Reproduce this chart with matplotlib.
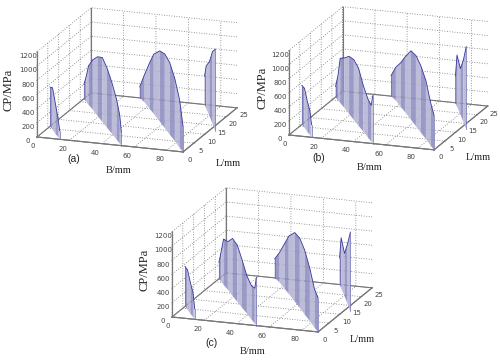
import matplotlib
matplotlib.use('Agg')
import matplotlib.pyplot as plt
from mpl_toolkits.mplot3d.art3d import Poly3DCollection
from mpl_toolkits.mplot3d import proj3d

# positions of the contact lines on the B-L floor
r1_b = [0, 3.6, 8.1, 11.3, 14]
r1_l = [6, 4.5, 2.5, 1.2, 0]
r2_b = [0, 3.5, 6.6, 12.3, 18.9, 25.6, 32.1, 38.7, 45.3, 49.7, 52]
r2_l = [21.7, 20.2, 18.9, 16.6, 13.8, 11, 8.3, 5.6, 2.8, 1, 0]
r3_b = [30, 35.7, 42.8, 48.4, 56.9, 64, 71, 78.2, 85.2, 90]
r3_l = [25, 23, 20, 17.7, 14.1, 11.1, 8.1, 5.1, 2, 0]
r4_b = [70, 73.5, 80.5, 87.3, 94]
r4_l = [25, 23.1, 19.4, 15.7, 12]

# contact pressure along each line, one set per panel
a_r1 = [555, 590, 414, 270, 120]
a_r2 = [200, 367, 550, 705, 832, 907, 841, 719, 569, 395, 190]
a_r3 = [155, 395, 650, 841, 996, 1043, 1015, 874, 680, 366]
a_r4 = [400, 600, 770, 1020, 1160]

b_r1 = [555, 560, 430, 350, 180]
b_r2 = [150, 352, 634, 710, 818, 855, 818, 650, 545, 512, 680]
b_r3 = [291, 475, 630, 780, 978, 1001, 950, 827, 611, 494]
b_r4 = [376, 733, 649, 874, 1175]

c_r1 = [564, 560, 430, 350, 150]
c_r2 = [226, 442, 644, 677, 808, 799, 677, 531, 475, 498, 680]
c_r3 = [268, 423, 639, 813, 973, 982, 907, 738, 540, 484]
c_r4 = [376, 714, 602, 846, 1118]

b_ticks = [0, 20, 40, 60, 80]
l_ticks = [0, 5, 10, 15, 20, 25]
cp_ticks = [0, 200, 400, 600, 800, 1000, 1200]

W, H = 500, 361
fig = plt.figure(figsize=(W / 100, H / 100), dpi=100)
fig.patch.set_facecolor('white')


def draw_ridge(ax, bs, ls, ps):
    quads = []
    cols = []
    for i in range(len(bs) - 1):
        quads.append([(bs[i], ls[i], 0), (bs[i + 1], ls[i + 1], 0),
                      (bs[i + 1], ls[i + 1], ps[i + 1]), (bs[i], ls[i], ps[i])])
        cols.append('#8f8fc0' if i % 2 == 0 else '#b6b6d6')
    poly = Poly3DCollection(quads, facecolors=cols, edgecolors='none', alpha=0.9, zorder=3)
    ax.add_collection3d(poly)
    ax.plot(bs, ls, ps, color='#35359c', lw=0.6, zorder=4)
    ax.plot([bs[0], bs[0]], [ls[0], ls[0]], [0, ps[0]], color='#6a6ab0', lw=0.5, zorder=4)
    ax.plot([bs[-1], bs[-1]], [ls[-1], ls[-1]], [0, ps[-1]], color='#6a6ab0', lw=0.5, zorder=4)


def project(ax, x, y, z):
    px, py, _ = proj3d.proj_transform(x, y, z, ax.get_proj())
    return ax.transData.transform((px, py))


def panel(origin, right, r1, r2, r3, r4):
    ax = fig.add_axes([0.1, 0.1, 0.5, 0.6], projection='3d', computed_zorder=False)
    ax.set_proj_type('ortho')
    ax.view_init(elev=16.8, azim=-70.5)
    ax.set_box_aspect((155, 162, 89), zoom=1.0)
    ax.set_xlim(0, 90)
    ax.set_ylim(0, 25)
    ax.set_zlim(0, 1200)
    ax.set_xticks(b_ticks)
    ax.set_yticks(l_ticks)
    ax.set_zticks(cp_ticks)
    ax.patch.set_alpha(0)
    for axis in (ax.xaxis, ax.yaxis, ax.zaxis):
        axis.set_pane_color((1, 1, 1, 0))
        axis.pane.set_edgecolor('none')
        axis.line.set_color('#777777')
        axis.line.set_linewidth(0.8)
        axis._axinfo['grid'].update(color='#777777', linestyle=(0, (1, 2)), linewidth=0.6)
        axis._axinfo['tick'].update(inward_factor=0.05, outward_factor=0.05)
        axis._axinfo['tick']['linewidth'] = {True: 0.4, False: 0.3}
    ax.tick_params(labelsize=5, pad=-4, colors='#444444', length=1, width=0.4)
    plt.setp(ax.get_xticklabels(), ha='right')
    ax.zaxis.set_ticks_position('lower')
    ax.zaxis.set_label_position('lower')

    # solid edges of the two walls
    ax.plot([0, 0], [25, 25], [0, 1200], color='#777777', lw=0.8, zorder=2)
    ax.plot([0, 90], [25, 25], [0, 0], color='#777777', lw=0.8, zorder=2)
    ax.plot([0, 0], [0, 25], [0, 0], color='#777777', lw=0.8, zorder=2)
    ax.plot([0, 0], [0, 0], [0, 1200], color='#777777', lw=0.8, zorder=2)
    ax.plot([0, 90], [0, 0], [0, 0], color='#777777', lw=0.8, zorder=2)
    ax.plot([90, 90], [0, 25], [0, 0], color='#777777', lw=0.8, zorder=2)

    draw_ridge(ax, r1_b, r1_l, r1)
    draw_ridge(ax, r2_b, r2_l, r2)
    draw_ridge(ax, r3_b, r3_l, r3)
    draw_ridge(ax, r4_b, r4_l, r4)

    # fit the axes so B=0 and B=90 on the front edge land where they should
    for _ in range(3):
        fig.canvas.draw()
        p0 = project(ax, 0, 0, 0)
        p1 = project(ax, 90, 0, 0)
        pos = ax.get_position()
        s = (right[0] - origin[0]) / (p1[0] - p0[0])
        ax.set_position([pos.x0, pos.y0, pos.width * s, pos.height * s])
        fig.canvas.draw()
        p0 = project(ax, 0, 0, 0)
        pos = ax.get_position()
        ax.set_position([pos.x0 + (origin[0] - p0[0]) / W,
                         pos.y0 + (H - origin[1] - p0[1]) / H,
                         pos.width, pos.height])
    return ax


panel((37, 137), (183, 152.7), a_r1, a_r2, a_r3, a_r4)
panel((289, 135), (434, 152), b_r1, b_r2, b_r3, b_r4)
panel((172, 317), (318, 333), c_r1, c_r2, c_r3, c_r4)


def label(x, y, s, **kw):
    fig.text(x / W, 1 - y / H, s, ha='center', va='center', color='#222222', **kw)


serif = dict(family='Liberation Serif', fontsize=7.5)
tall = dict(family='Liberation Serif', fontsize=9)
sans = dict(family='Liberation Sans', fontsize=7.5)
label(74, 159, '(a)', **sans)
label(119, 171, 'B/mm', **serif)
label(228, 163, 'L/mm', **serif)
label(9, 90, 'CP/MPa', rotation=90, **tall)
label(319, 158, '(b)', **sans)
label(370, 168, 'B/mm', **serif)
label(478, 157, 'L/mm', **serif)
label(262, 88, 'CP/MPa', rotation=90, **tall)
label(211, 343, '(c)', **sans)
label(253, 351, 'B/mm', **serif)
label(362, 339, 'L/mm', **serif)
label(145, 270, 'CP/MPa', rotation=90, **tall)

fig.savefig('out.png', dpi=100)
